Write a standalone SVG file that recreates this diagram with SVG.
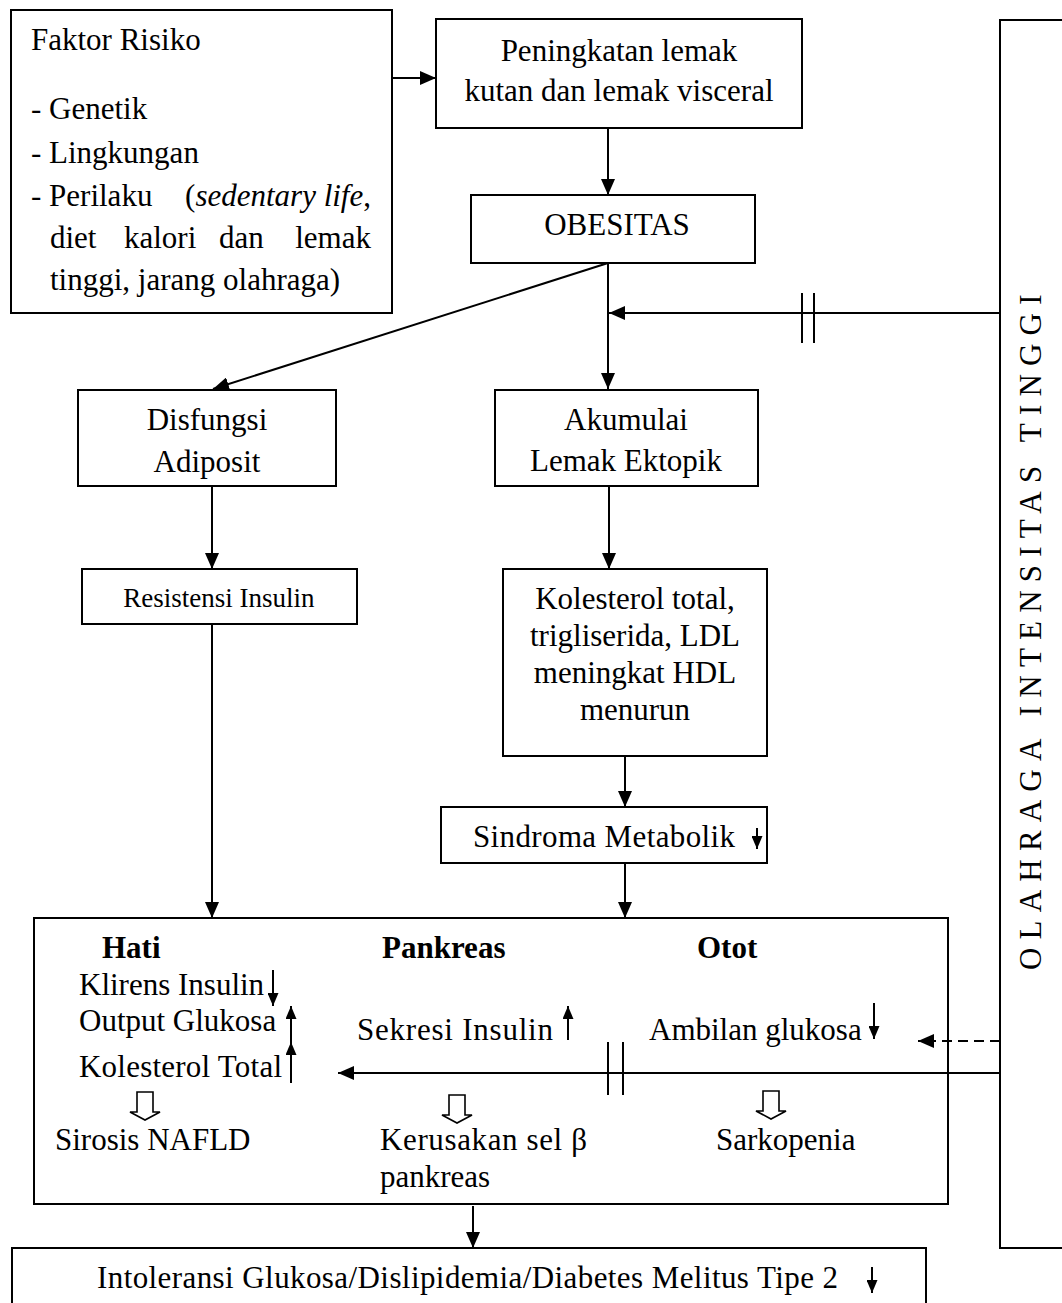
<svg xmlns="http://www.w3.org/2000/svg" width="1062" height="1303" viewBox="0 0 1062 1303">
<style>
text{font-family:"Liberation Serif","Times New Roman",serif;font-size:31px;fill:#000}
.box{fill:#fff;stroke:#000;stroke-width:2}
.ln{fill:none;stroke:#000;stroke-width:2}
.c{text-anchor:middle}
.b{font-weight:bold}
.hol{fill:#fff;stroke:#000;stroke-width:1.6}
</style>
<defs>
<marker id="ah" markerUnits="userSpaceOnUse" markerWidth="16" markerHeight="14" refX="16" refY="7" orient="auto">
<path d="M0,0 L16,7 L0,14 Z" fill="#000"/>
</marker>
<marker id="sm" markerUnits="userSpaceOnUse" markerWidth="13" markerHeight="11" refX="13" refY="5.5" orient="auto">
<path d="M0,0 L13,5.5 L0,11 Z" fill="#000"/>
</marker>
<path id="hollow" d="M-8,0 H8 V20 H15 L0,28 L-15,20 H-8 Z"/>
</defs>

<g id="faktor-risiko">
<rect class="box" x="11" y="10" width="381" height="303"/>
<text x="31" y="50">Faktor Risiko</text>
<text x="31" y="119">- Genetik</text>
<text x="31" y="163">- Lingkungan</text>
<text x="31" y="206">- Perilaku</text>
<text x="371" y="206" text-anchor="end">(<tspan font-style="italic">sedentary life</tspan>,</text>
<text x="50" y="248">diet</text>
<text x="124" y="248">kalori</text>
<text x="219" y="248">dan</text>
<text x="371" y="248" text-anchor="end">lemak</text>
<text x="50" y="290">tinggi, jarang olahraga)</text>
</g>

<g id="peningkatan-lemak">
<rect class="box" x="436" y="19" width="366" height="109"/>
<text class="c" x="619" y="61">Peningkatan lemak</text>
<text class="c" x="619" y="101">kutan dan lemak visceral</text>
</g>

<g id="obesitas">
<rect class="box" x="471" y="195" width="284" height="68"/>
<text class="c" x="617" y="235">OBESITAS</text>
</g>

<g id="disfungsi-adiposit">
<rect class="box" x="78" y="390" width="258" height="96"/>
<text class="c" x="207" y="430">Disfungsi</text>
<text class="c" x="207" y="472">Adiposit</text>
</g>

<g id="akumulasi-lemak">
<rect class="box" x="495" y="390" width="263" height="96"/>
<text class="c" x="626" y="430">Akumulai</text>
<text class="c" x="626" y="471">Lemak Ektopik</text>
</g>

<g id="resistensi-insulin">
<rect class="box" x="82" y="569" width="275" height="55"/>
<text class="c" x="219" y="607" style="font-size:27px">Resistensi Insulin</text>
</g>

<g id="kolesterol">
<rect class="box" x="503" y="569" width="264" height="187"/>
<text class="c" x="635" y="609">Kolesterol total,</text>
<text class="c" x="635" y="646">trigliserida, LDL</text>
<text class="c" x="635" y="683">meningkat HDL</text>
<text class="c" x="635" y="720">menurun</text>
</g>

<g id="sindroma-metabolik">
<rect class="box" x="441" y="807" width="326" height="56"/>
<text x="473" y="847" textLength="262">Sindroma Metabolik</text>
<line class="ln" x1="757" y1="828" x2="757" y2="849" marker-end="url(#sm)"/>
</g>

<g id="organ">
<rect class="box" x="34" y="918" width="914" height="286"/>
<text class="b" x="102" y="958">Hati</text>
<text class="b" x="382" y="958">Pankreas</text>
<text class="b" x="697" y="958">Otot</text>
<text x="79" y="995">Klirens Insulin</text>
<line class="ln" x1="273" y1="970" x2="273" y2="1006" marker-end="url(#sm)"/>
<text x="79" y="1031">Output Glukosa</text>
<line class="ln" x1="291" y1="1042" x2="291" y2="1006" marker-end="url(#sm)"/>
<text x="79" y="1077" textLength="203">Kolesterol Total</text>
<line class="ln" x1="291" y1="1083" x2="291" y2="1042" marker-end="url(#sm)"/>
<text x="357" y="1040" textLength="196">Sekresi Insulin</text>
<line class="ln" x1="568" y1="1040" x2="568" y2="1006" marker-end="url(#sm)"/>
<text x="649" y="1040">Ambilan glukosa</text>
<line class="ln" x1="874" y1="1003" x2="874" y2="1039" marker-end="url(#sm)"/>
<use href="#hollow" class="hol" x="145" y="1092"/>
<use href="#hollow" class="hol" x="457" y="1095"/>
<use href="#hollow" class="hol" x="771" y="1091"/>
<text x="55" y="1150">Sirosis NAFLD</text>
<text x="380" y="1150" textLength="207">Kerusakan sel β</text>
<text x="380" y="1187">pankreas</text>
<text x="716" y="1150">Sarkopenia</text>
</g>

<g id="olahraga">
<rect class="box" x="1000" y="20" width="100" height="1228"/>
<text transform="translate(1041,970) rotate(-90)" style="letter-spacing:8.2px">OLAHRAGA INTENSITAS TINGGI</text>
</g>

<g id="hasil">
<rect class="box" x="12" y="1248" width="914" height="70"/>
<text x="97" y="1288" textLength="741">Intoleransi Glukosa/Dislipidemia/Diabetes Melitus Tipe 2</text>
<line class="ln" x1="872" y1="1267" x2="872" y2="1293" marker-end="url(#sm)"/>
</g>

<g id="connectors">
<line class="ln" x1="393" y1="78" x2="436" y2="78" marker-end="url(#ah)"/>
<line class="ln" x1="608" y1="128" x2="608" y2="195" marker-end="url(#ah)"/>
<line class="ln" x1="608" y1="263" x2="213" y2="389" marker-end="url(#ah)"/>
<line class="ln" x1="608" y1="263" x2="608" y2="389" marker-end="url(#ah)"/>
<line class="ln" x1="1000" y1="313" x2="609" y2="313" marker-end="url(#ah)"/>
<line class="ln" x1="802" y1="293" x2="802" y2="343"/>
<line class="ln" x1="814" y1="293" x2="814" y2="343"/>
<line class="ln" x1="212" y1="486" x2="212" y2="569" marker-end="url(#ah)"/>
<line class="ln" x1="609" y1="486" x2="609" y2="569" marker-end="url(#ah)"/>
<line class="ln" x1="212" y1="624" x2="212" y2="918" marker-end="url(#ah)"/>
<line class="ln" x1="625" y1="756" x2="625" y2="807" marker-end="url(#ah)"/>
<line class="ln" x1="625" y1="863" x2="625" y2="918" marker-end="url(#ah)"/>
<line class="ln" x1="1000" y1="1073" x2="338" y2="1073" marker-end="url(#ah)"/>
<line class="ln" x1="608" y1="1042" x2="608" y2="1095"/>
<line class="ln" x1="623" y1="1042" x2="623" y2="1095"/>
<line class="ln" x1="1000" y1="1041" x2="918" y2="1041" stroke-dasharray="10,6" marker-end="url(#ah)"/>
<line class="ln" x1="473" y1="1206" x2="473" y2="1248" marker-end="url(#ah)"/>
</g>
</svg>
